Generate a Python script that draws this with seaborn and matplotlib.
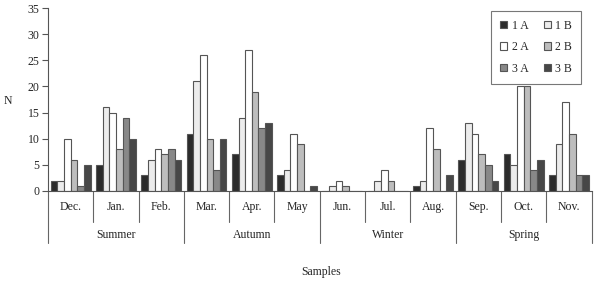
import matplotlib
matplotlib.use("Agg")
import matplotlib.pyplot as plt
import matplotlib.transforms as mtransforms
import seaborn as sns
import pandas as pd

# data
MONTHS = ["Dec.", "Jan.", "Feb.", "Mar.", "Apr.", "May", "Jun.", "Jul.", "Aug.",
          "Sep.", "Oct.", "Nov."]
SEASONS = ["Summer", "Autumn", "Winter", "Spring"]
SERIES = ["1 A", "1 B", "2 A", "2 B", "3 A", "3 B"]
v_1a = [2, 5, 3, 11, 7, 3, 0, 0, 1, 6, 7, 3]
v_1b = [2, 16, 6, 21, 14, 4, 1, 2, 2, 13, 5, 9]
v_2a = [10, 15, 8, 26, 27, 11, 2, 4, 12, 11, 20, 17]
v_2b = [6, 8, 7, 10, 19, 9, 1, 2, 8, 7, 20, 11]
v_3a = [1, 14, 8, 4, 12, 0, 0, 0, 0, 5, 4, 3]
v_3b = [5, 10, 6, 10, 13, 1, 0, 0, 3, 2, 6, 3]
COLORS = ["#2b2b2b", "#ececec", "#ffffff", "#bdbdbd", "#888888", "#474747"]

rows = []
for name, vals in zip(SERIES, [v_1a, v_1b, v_2a, v_2b, v_3a, v_3b]):
    for m, v in zip(MONTHS, vals):
        rows.append({"month": m, "series": name, "N": v})
df = pd.DataFrame(rows)

sns.set_style("white")
plt.rcParams["font.family"] = ["Liberation Serif", "DejaVu Serif"]
FS = 8.5

fig = plt.figure(figsize=(6.1, 2.81), dpi=100)
ax = fig.add_axes([0.0787, 0.3203, 0.891, 0.651])
sns.barplot(data=df, x="month", y="N", hue="series", order=MONTHS,
            hue_order=SERIES, palette=COLORS, edgecolor="#555555",
            linewidth=0.8, width=0.88, gap=0, ax=ax)

ax.set_ylim(0, 35)
ax.set_yticks(range(0, 36, 5))
ax.set_xlim(-0.5, len(MONTHS) - 0.5)
ax.set_xticks([])
ax.set_xlabel("")
ax.set_ylabel("")
ax.tick_params(axis="y", labelsize=FS, length=4, width=0.8, color="#555555",
               left=True, pad=2)
for s in ["top", "right"]:
    ax.spines[s].set_visible(False)
for s in ["left", "bottom"]:
    ax.spines[s].set_color("#555555")
    ax.spines[s].set_linewidth(0.8)

# hierarchical x axis
tr = mtransforms.blended_transform_factory(ax.transData, ax.transAxes)
for i in range(len(MONTHS) + 1):
    depth = -0.284 if i % 3 == 0 else -0.17
    ax.plot([i - 0.5, i - 0.5], [0, depth], transform=tr, color="#666666",
            lw=0.8, clip_on=False)
for i, m in enumerate(MONTHS):
    ax.text(i, -0.087, m, transform=tr, ha="center", va="center", fontsize=FS)
for j, s in enumerate(SEASONS):
    ax.text(3 * j + 1, -0.24, s, transform=tr, ha="center", va="center",
            fontsize=FS)

fig.text(0.527, 0.032, "Samples", ha="center", va="center", fontsize=FS)
fig.text(0.013, 0.64, "N", ha="center", va="center", fontsize=FS)

# legend: two columns, 1A/2A/3A left, 1B/2B/3B right
handles, labels = ax.get_legend_handles_labels()
order = [0, 2, 4, 1, 3, 5]
ax.legend([handles[k] for k in order], [labels[k] for k in order], ncol=2,
          loc="upper right", bbox_to_anchor=(0.981, 0.984), fontsize=FS,
          frameon=True, fancybox=False, edgecolor="#555555",
          handlelength=0.6, handleheight=0.6, handletextpad=0.4,
          columnspacing=1.3, labelspacing=0.8, borderpad=0.75,
          borderaxespad=0)
ax.get_legend().get_frame().set_linewidth(0.8)

fig.savefig("out.png", dpi=100)
